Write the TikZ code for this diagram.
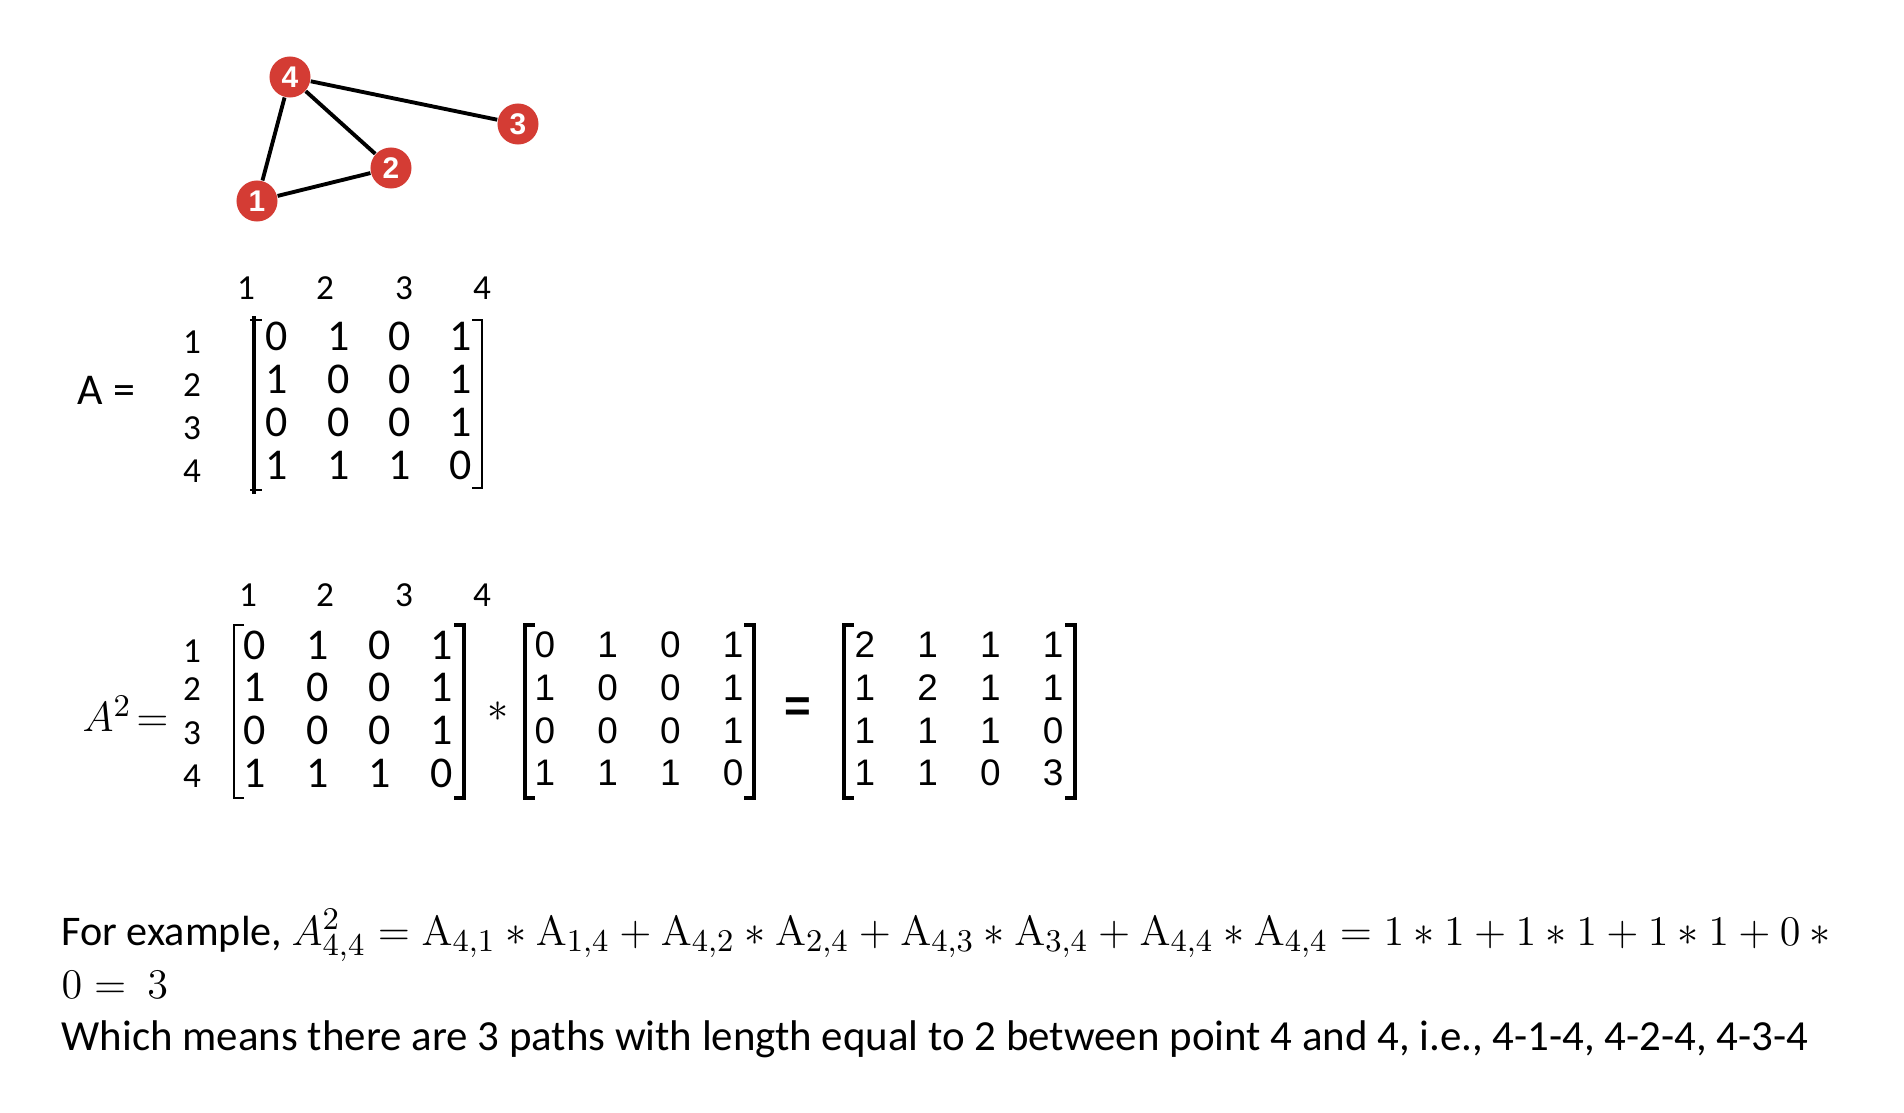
\documentclass[tikz,border=0pt]{standalone}
\usepackage[no-math]{fontspec}
\setmainfont{Carlito}
\newfontfamily\arialfont{Liberation Sans}
\definecolor{nodered}{RGB}{212,60,52}

\begin{document}
\begin{tikzpicture}[x=0.01cm, y=-0.01cm, line join=miter]
    % Gaya umum
    \tikzset{
      vertex/.style={circle, fill=nodered, minimum size=0.41cm, inner sep=0pt,
        text=white, font=\arialfont\bfseries\fontsize{8.5}{9}\selectfont},
      edge/.style={line width=1.1pt, black},
      idx/.style={font=\fontsize{10}{12}\selectfont, inner sep=0pt},
      entcal/.style={font=\fontsize{12.5}{14}\selectfont, inner sep=0pt},
      entarial/.style={font=\arialfont\fontsize{10.5}{12}\selectfont, inner sep=0pt},
      thinbrk/.style={line width=0.7pt},
      thickbrk/.style={line width=1.4pt},
      captext/.style={font=\fontsize{12}{15}\selectfont, inner sep=0pt, anchor=base west}
    }
    \useasboundingbox (0,0) rectangle (1904,1112);

    % Graf dengan empat simpul
    \node[vertex] (n4) at (290,77) {4};
    \node[vertex] (n3) at (518,124) {3};
    \node[vertex] (n2) at (391,168) {2};
    \node[vertex] (n1) at (257,201) {1};
    \draw[edge] (n4) -- (n1);
    \draw[edge] (n4) -- (n2);
    \draw[edge] (n4) -- (n3);
    \draw[edge] (n1) -- (n2);

    % Matriks ketetanggaan A
    \node[entcal, anchor=west] (Alabel) at (77,390) {A =};
    \foreach \cx [count=\i] in {246,325,404,482}
      \node[idx] (ah\i) at (\cx,288) {\i};
    \foreach \i in {1,...,4}
      \node[idx] (ar\i) at (192,{342+43*(\i-1)}) {\i};
    \foreach \row [count=\r] in {{0,1,0,1},{1,0,0,1},{0,0,0,1},{1,1,1,0}}
      \foreach \v [count=\c] in \row
        \node[entcal] (a-\r-\c) at ({277+61.3*(\c-1)},{336+43*(\r-1)}) {\v};
    \draw[thickbrk] (254,316) -- (254,494);
    \draw[thinbrk] (250,320) -- (262,320) (250,490) -- (262,490);
    \draw[thinbrk] (472,320) -- (482,320) -- (482,488) -- (472,488);

    % Perkalian A^2
    \node[anchor=west, inner sep=0pt, font=\fontsize{12.5}{14}\selectfont] (A2label) at (82,714) {$A^2\!=$};
    \foreach \cx [count=\i] in {248,325,404,482}
      \node[idx] (bh\i) at (\cx,595) {\i};
    \foreach \ry [count=\i] in {651,689,733,776}
      \node[idx] (br\i) at (192,\ry) {\i};
    \foreach \row [count=\r] in {{0,1,0,1},{1,0,0,1},{0,0,0,1},{1,1,1,0}}
      \foreach \v [count=\c] in \row {
        \node[entcal] (p-\r-\c) at ({255+62.3*(\c-1)},{645+42.7*(\r-1)}) {\v};
        \node[entarial] (q-\r-\c) at ({545+62.7*(\c-1)},{645+42.7*(\r-1)}) {\v};
      }
    \foreach \row [count=\r] in {{2,1,1,1},{1,2,1,1},{1,1,1,0},{1,1,0,3}}
      \foreach \v [count=\c] in \row
        \node[entarial] (s-\r-\c) at ({865+62.7*(\c-1)},{645+42.7*(\r-1)}) {\v};
    \node[font=\fontsize{12}{14}\selectfont] (times) at (498,712) {$\ast$};
    \node[font=\arialfont\bfseries\fontsize{13}{14}\selectfont] (eq) at (798,710) {=};
    % kurung siku
    \draw[thinbrk] (244,625) -- (234,625) -- (234,798) -- (244,798);
    \draw[thickbrk] (454,625) -- (464,625) -- (464,798) -- (454,798);
    \draw[thickbrk] (535,625) -- (525,625) -- (525,798) -- (535,798);
    \draw[thickbrk] (744,625) -- (754,625) -- (754,798) -- (744,798);
    \draw[thickbrk] (854,625) -- (844,625) -- (844,798) -- (854,798);
    \draw[thickbrk] (1065,625) -- (1075,625) -- (1075,798) -- (1065,798);

    % Keterangan
    \node[captext] (cap1) at (61,945) {For example, {\fontsize{12.3}{15}\selectfont$A^2_{4,4} = \mathrm{A}_{4,1} \ast \mathrm{A}_{1,4} + \mathrm{A}_{4,2} \ast \mathrm{A}_{2,4} + \mathrm{A}_{4,3} \ast \mathrm{A}_{3,4} + \mathrm{A}_{4,4} \ast \mathrm{A}_{4,4} = 1 \ast 1 + 1 \ast 1 + 1 \ast 1 + 0 \ast {}$}};
    \node[captext] (cap2) at (61,998) {$0 =\ 3$};
    \node[captext, font=\fontsize{12.2}{15}\selectfont] (cap3) at (61,1050) {Which means there are 3 paths with length equal to 2 between point 4 and 4, i.e., 4-1-4, 4-2-4, 4-3-4};
\end{tikzpicture}
\end{document}
